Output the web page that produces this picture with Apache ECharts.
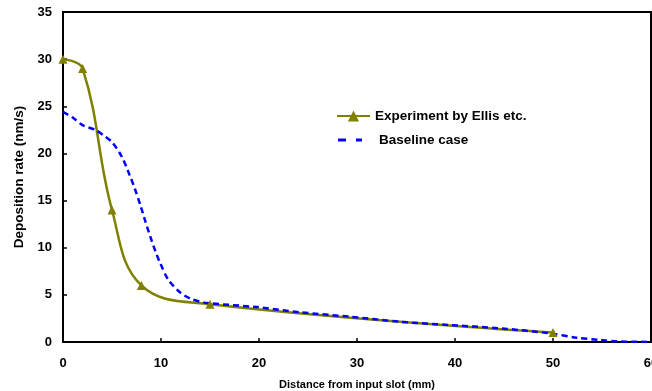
<!DOCTYPE html>
<html>
<head>
<meta charset="utf-8">
<script src="https://cdn.jsdelivr.net/npm/echarts@6/dist/echarts.min.js"></script>
<style>
  html, body { margin: 0; padding: 0; background: #fff; }
  #chart { width: 652px; height: 391px; }
</style>
</head>
<body>
<div id="chart"></div>
<script>
// experiment (Ellis etc.) - measured points
const expX = [0, 2, 5, 8, 15, 50];
const expY = [30, 29, 14, 6, 4, 1];

// baseline simulation
const baseX = [0, 1, 2, 3.3, 4.1, 5, 6, 6.8, 7.35, 7.9, 8.4, 8.9, 9.4, 9.9, 10.75, 11.9, 13, 14.3, 15, 19.8, 24.2, 29.3, 34.4, 39.5, 44.6, 49.7, 52.4, 54.8, 56.5, 60];
const baseY = [24.4, 23.8, 23.0, 22.5, 21.95, 21.2, 19.65, 17.7, 16.2, 14.5, 12.8, 11.2, 9.7, 8.4, 6.6, 5.3, 4.6, 4.2, 4.1, 3.7, 3.15, 2.68, 2.15, 1.8, 1.45, 0.92, 0.46, 0.21, 0.07, 0];

const font = 'Arial, "Liberation Sans", sans-serif';
const chart = echarts.init(document.getElementById('chart'));

chart.setOption({
  animation: false,
  grid: {
    left: 63, right: 1, top: 12, bottom: 49,
    outerBoundsMode: 'none',
    containLabel: false,
    show: true, borderColor: '#000', borderWidth: 2
  },
  legend: {
    orient: 'vertical',
    left: 331,
    top: 104,
    itemWidth: 33,
    itemHeight: 14,
    itemGap: 10,
    textStyle: { fontFamily: font, fontWeight: 'bold', fontSize: 13.5, color: '#000' },
    data: [
      { name: 'Experiment by Ellis etc.' },
      {
        name: 'Baseline case',
        icon: 'path://M0,0h0.01v0.01h-0.01z M33,14h0.01v0.01h-0.01z M1,5.5h8v3h-8z M19,5.5h6v3h-6z',
        itemStyle: { color: '#0000ff' },
        textStyle: { padding: [0, 0, 0, 4] }
      }
    ]
  },
  xAxis: {
    type: 'value',
    min: 0, max: 60, interval: 10,
    name: 'Distance from input slot (mm)',
    nameLocation: 'middle',
    nameGap: 37,
    nameTextStyle: { fontFamily: font, fontWeight: 'bold', fontSize: 11, color: '#000' },
    axisLine: { lineStyle: { color: '#000', width: 2 } },
    axisTick: { inside: true, length: 4, lineStyle: { color: '#000', width: 1.5 } },
    axisLabel: { margin: 15, fontFamily: font, fontWeight: 'bold', fontSize: 13, color: '#000' },
    splitLine: { show: false }
  },
  yAxis: {
    type: 'value',
    min: 0, max: 35, interval: 5,
    name: 'Deposition rate (nm/s)',
    nameLocation: 'middle',
    nameGap: 36,
    nameTextStyle: { fontFamily: font, fontWeight: 'bold', fontSize: 13.5, color: '#000' },
    axisLine: { show: true, lineStyle: { color: '#000', width: 2 } },
    axisTick: { show: true, inside: true, length: 4, lineStyle: { color: '#000', width: 1.5 } },
    axisLabel: { margin: 11, fontFamily: font, fontWeight: 'bold', fontSize: 13, color: '#000' },
    splitLine: { show: false }
  },
  series: [
    {
      name: 'Experiment by Ellis etc.',
      type: 'line',
      smooth: 0.4,
      symbol: 'triangle',
      symbolSize: 9,
      lineStyle: { color: '#808000', width: 2.5 },
      itemStyle: { color: '#808000' },
      data: expX.map((x, i) => [x, expY[i]])
    },
    {
      name: 'Baseline case',
      type: 'line',
      smooth: 0.3,
      showSymbol: false,
      symbol: 'none',
      lineStyle: { color: '#0000ff', width: 2.5, type: [6, 4] },
      itemStyle: { color: '#0000ff' },
      data: baseX.map((x, i) => [x, baseY[i]])
    }
  ]
});
</script>
</body>
</html>
